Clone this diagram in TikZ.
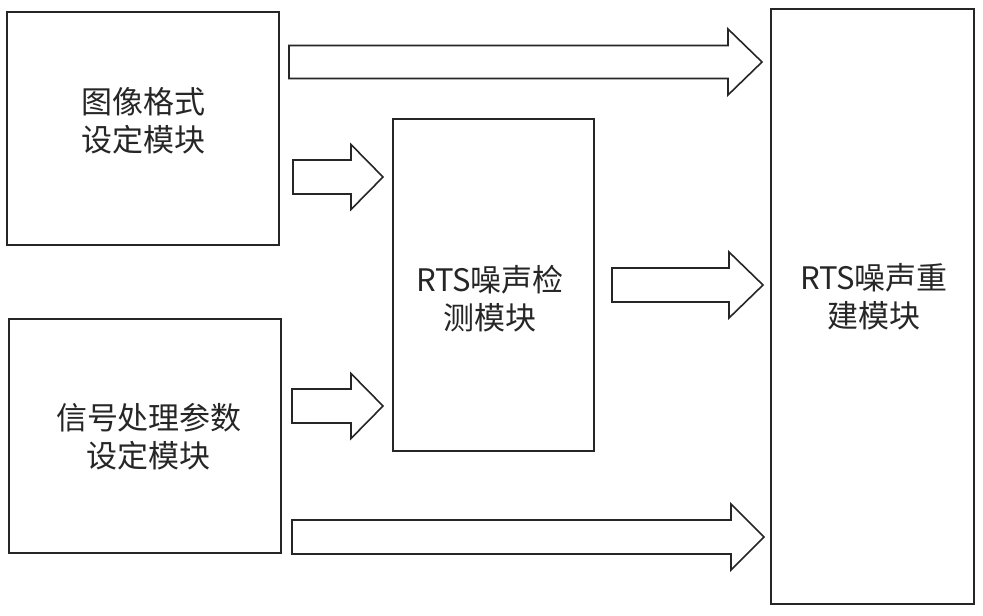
\documentclass[tikz,border=0pt]{standalone}
\usepackage{fontspec}
\setmainfont{Noto Sans CJK SC}
\newfontfamily\cjk{Noto Sans CJK SC}
\tikzset{
  modbox/.style={draw=black!85, line width=1.6pt, fill=white},
  modtext/.style={font=\cjk\fontsize{31}{38}\selectfont, align=center, text=black!85},
  blockarr/.style={draw=black!85, line width=1.6pt, fill=white, line join=miter}
}
% #1 x start, #2 x tip, #3 y centre, #4 shaft half height, #5 head half height, #6 head length
\newcommand\myblockarrow[6]{%
  \draw[blockarr] (#1,#3-#4) -- (#2-#6,#3-#4) -- (#2-#6,#3-#5) -- (#2,#3)
    -- (#2-#6,#3+#5) -- (#2-#6,#3+#4) -- (#1,#3+#4) -- cycle;}
\begin{document}
\begin{tikzpicture}[x=1pt,y=-1pt]
\useasboundingbox[fill=white] (0,0) rectangle (983,616);
% boxes
\draw[modbox] (7,12) rectangle (279,245);
\draw[modbox] (9,319) rectangle (281,553);
\draw[modbox] (393,119) rectangle (594,451);
\draw[modbox] (771,9) rectangle (974,604);
% texts
\node[modtext] (fmt) at (143,121) {图像格式\\设定模块};
\node[modtext] (sig) at (149,437) {信号处理参数\\设定模块};
\node[modtext] (det) at (490,299) {RTS噪声检\\测模块};
\node[modtext] (rec) at (874,297) {RTS噪声重\\建模块};
% block arrows
\myblockarrow{289}{762}{62}{16.5}{33}{34}
\myblockarrow{293}{383}{177}{17}{32.5}{32}
\myblockarrow{292}{383}{406}{17}{32.5}{32}
\myblockarrow{612}{763}{285}{17}{33}{34}
\myblockarrow{292}{764}{537}{17}{33}{33}
\end{tikzpicture}
\end{document}
